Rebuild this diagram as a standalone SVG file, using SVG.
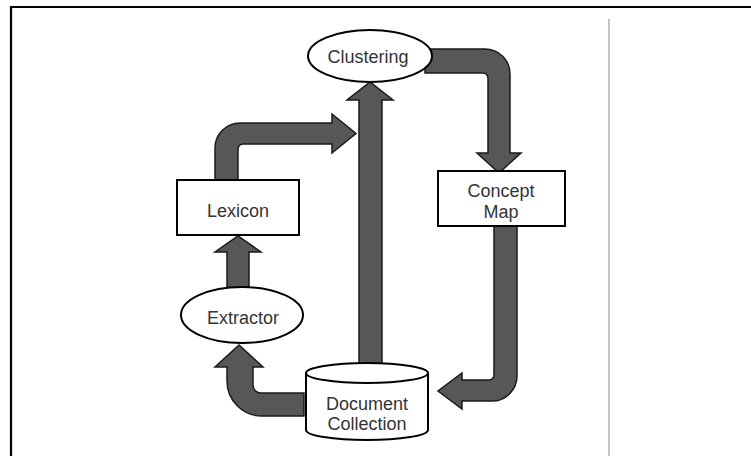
<svg xmlns="http://www.w3.org/2000/svg" width="751" height="456" viewBox="0 0 751 456">
<style>
.arrow{fill:#575757;stroke:#1a1a1a;stroke-width:1.5;stroke-linejoin:miter}
.node{fill:#fff;stroke:#000;stroke-width:2}
.lbl{font-family:"Liberation Sans",Arial,sans-serif;font-size:18px;fill:#333;text-anchor:middle}
</style>
<rect width="751" height="456" fill="#fff"/>
<path d="M11,456 V7 H751" fill="none" stroke="#000" stroke-width="2.2"/>
<line x1="609" y1="19" x2="609" y2="456" stroke="#b0b0b0" stroke-width="1.5"/>
<g id="connectors">
<path class="arrow" d="M425,49 H485 A25,25 0 0 1 510,74 V153 H521 L499,173 L477,153 H488 V78 A5,5 0 0 0 483,73 H425 Z"/>
<path class="arrow" d="M494,226 H517 V376 A25,25 0 0 1 492,401 H462 V409 L438,391 L462,373 V380 H489 A5,5 0 0 0 494,375 Z"/>
<path class="arrow" d="M359,364 V100 H347 L370,82 L393,100 H382 V364 Z"/>
<path class="arrow" d="M304,393 V416 H262 A35,35 0 0 1 227,381 V367 H215 L239,345 L263,367 H253 V385 A8,8 0 0 0 261,393 Z"/>
<path class="arrow" d="M215,181 V148 A25,25 0 0 1 240,123 H332 V114 L356,133.5 L332,153 V144 H243 A5,5 0 0 0 238,149 V181 Z"/>
<path class="arrow" d="M227,290 V252 H215 L238,236 L261,252 H249 V290 Z"/>
</g>
<g id="clustering">
<ellipse class="node" cx="370" cy="56" rx="62" ry="26"/>
<text class="lbl" x="368" y="63">Clustering</text>
</g>
<g id="concept-map">
<rect class="node" x="438" y="171" width="127" height="55"/>
<text class="lbl" x="501" y="197">Concept</text>
<text class="lbl" x="501" y="218">Map</text>
</g>
<g id="lexicon">
<rect class="node" x="177" y="180" width="122" height="55"/>
<text class="lbl" x="238" y="217">Lexicon</text>
</g>
<g id="extractor">
<ellipse class="node" cx="242" cy="315" rx="61" ry="28"/>
<text class="lbl" x="243" y="324">Extractor</text>
</g>
<g id="document-collection">
<path class="node" d="M306,373 A61,10 0 0 1 428,373 V430 A61,10 0 0 1 306,430 Z"/>
<path d="M306,373 A61,10 0 0 0 428,373" fill="none" stroke="#000" stroke-width="2"/>
<text class="lbl" x="367" y="410">Document</text>
<text class="lbl" x="367" y="430">Collection</text>
</g>
</svg>
